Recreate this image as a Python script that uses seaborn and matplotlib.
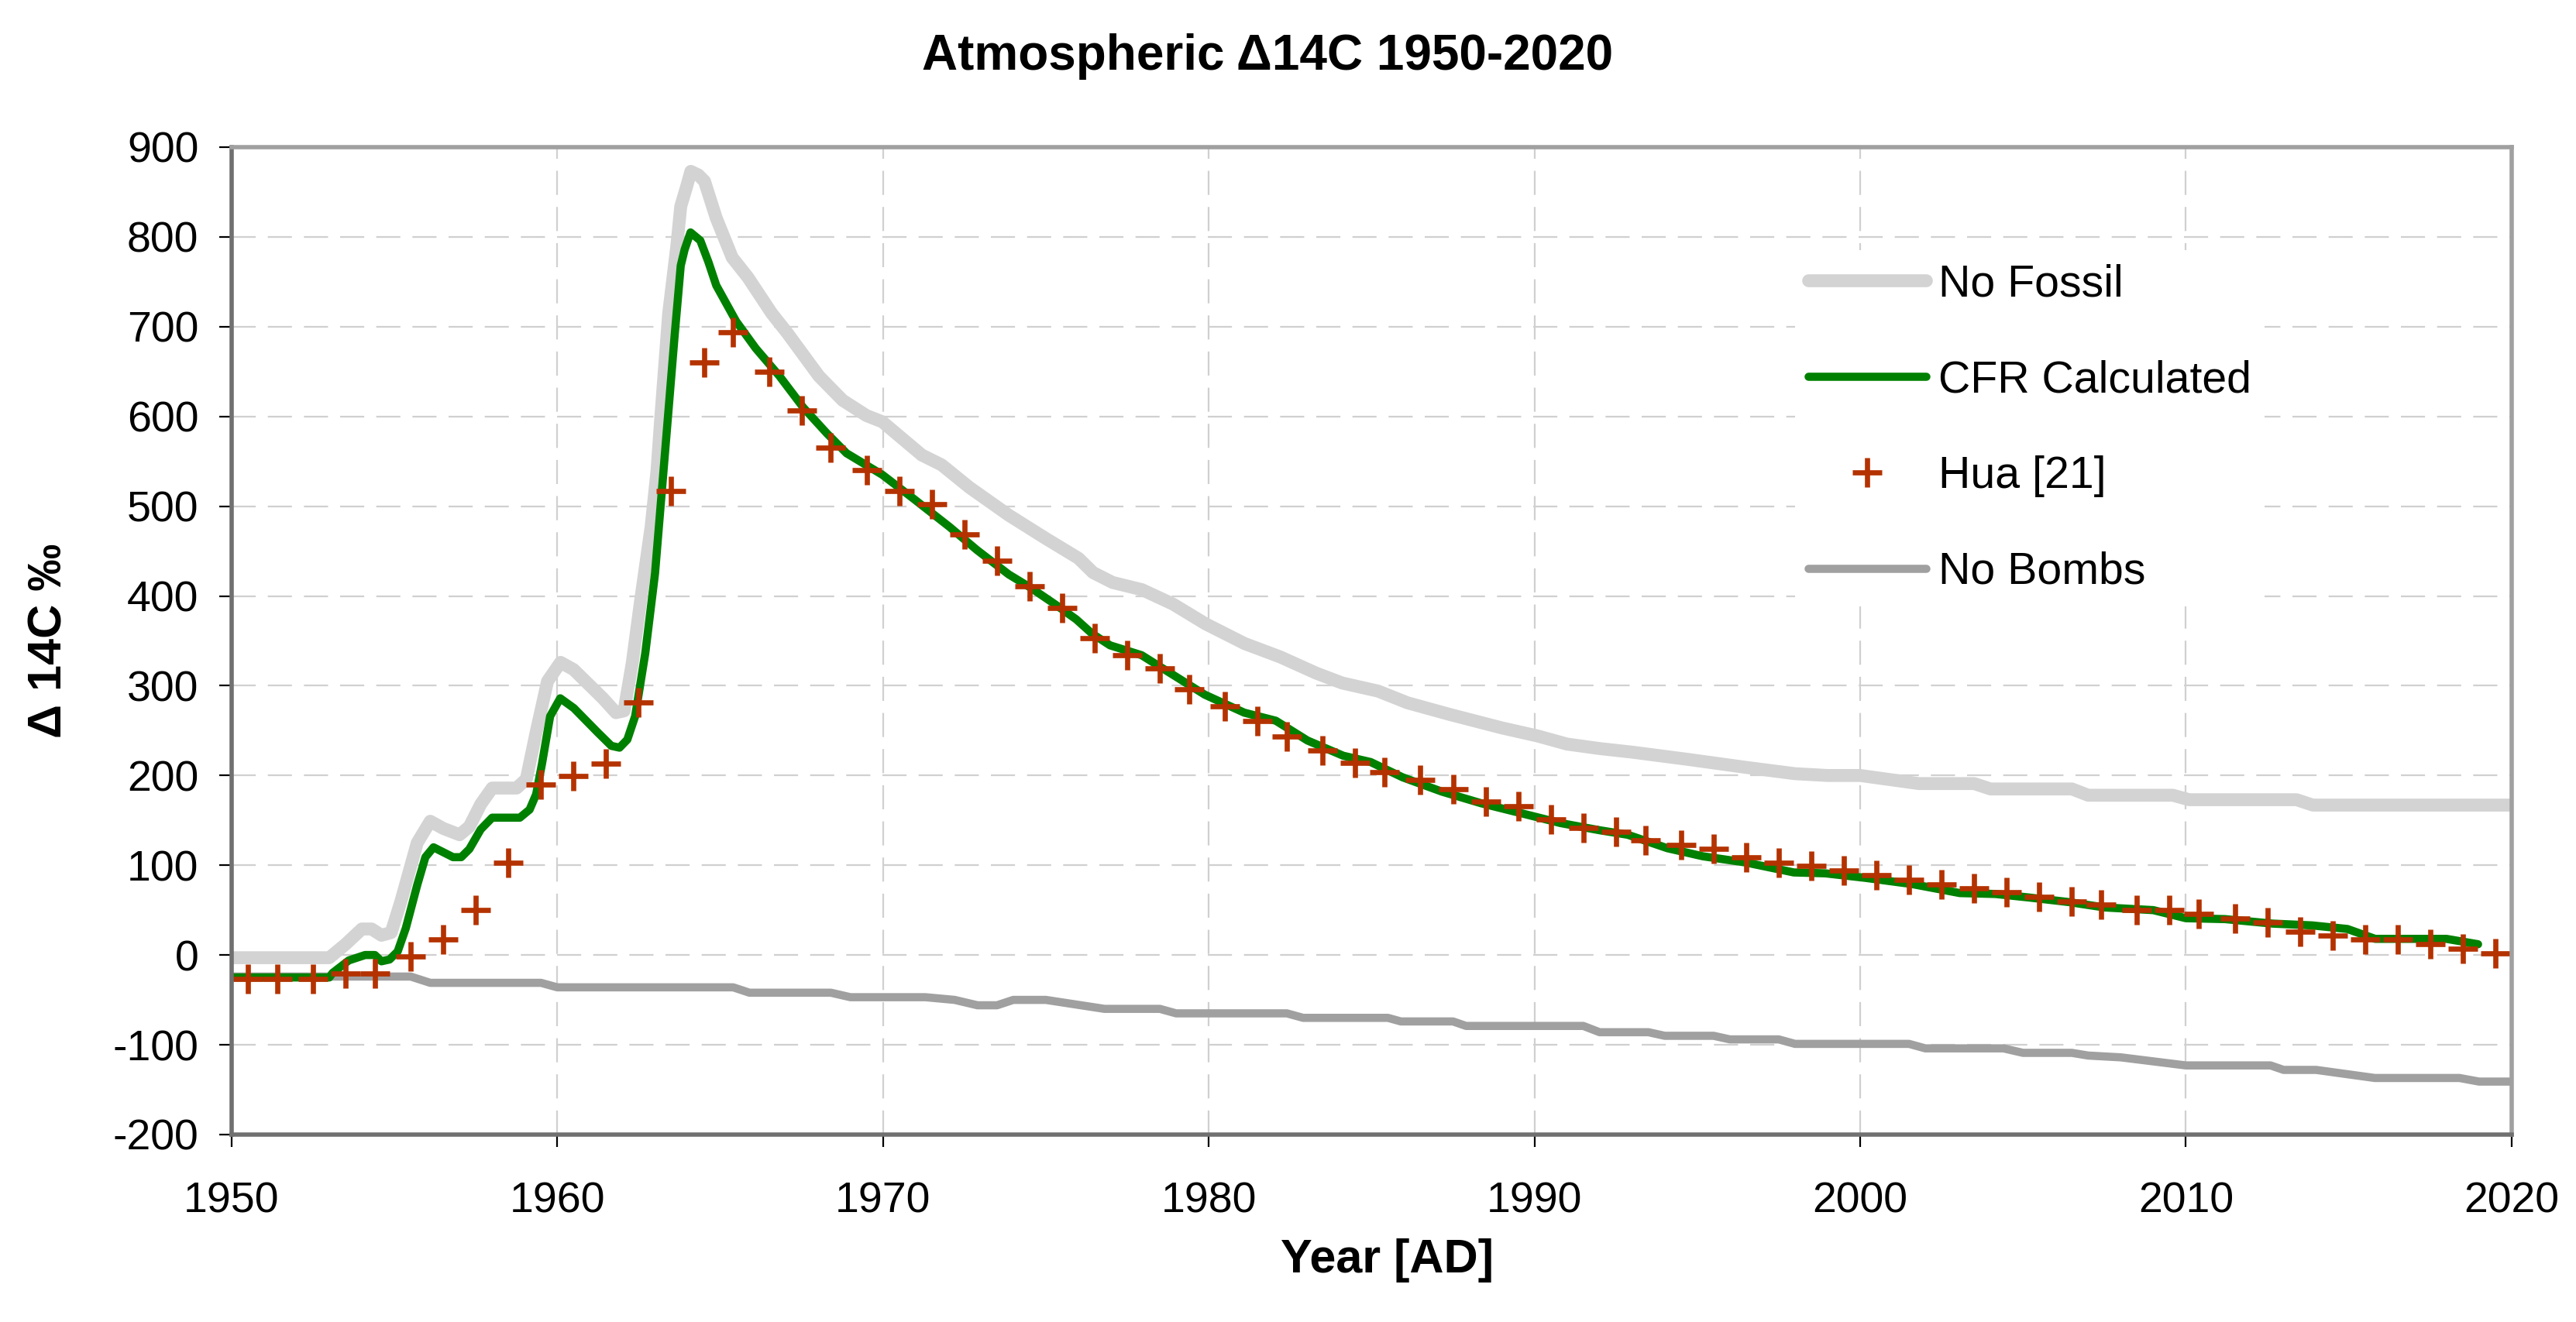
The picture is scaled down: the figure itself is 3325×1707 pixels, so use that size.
import numpy as np
import pandas as pd
import matplotlib.pyplot as plt
import seaborn as sns

# "No Fossil" scenario
nf_year = [1950.0, 1953.0, 1953.5, 1954.0, 1954.3, 1954.6, 1954.9, 1955.2, 1955.7, 1956.1,
           1956.5, 1957.0, 1957.3, 1957.65, 1958.0, 1958.75, 1959.05, 1959.35, 1959.7, 1960.1,
           1960.5, 1961.4, 1961.8, 1962.05, 1962.3, 1962.57, 1962.88, 1963.06, 1963.18, 1963.42,
           1963.67, 1963.79, 1963.97, 1964.1, 1964.33, 1964.52, 1964.88, 1965.37, 1965.85, 1966.58,
           1967.06, 1968.03, 1968.76, 1969.49, 1969.98, 1971.19, 1971.8, 1972.65, 1973.86, 1975.0,
           1976.0, 1976.45, 1977.05, 1977.95, 1978.9, 1979.9, 1981.1, 1982.2, 1983.3, 1984.1,
           1985.2, 1986.1, 1987.4, 1989.0, 1990.1, 1991.0, 1992.0, 1993.0, 1994.7, 1996.5,
           1998.0, 1999.0, 2000.0, 2001.8, 2003.5, 2004.0, 2006.5, 2007.0, 2009.6, 2010.1,
           2013.4, 2013.9, 2020.0]
nf_val = [-3, -3, 12, 29, 29, 22, 25, 60, 125, 149,
          141, 134, 143, 168, 186, 186, 196, 248, 305, 326,
          318, 286, 270, 272, 325, 398, 477, 539, 600, 715,
          790, 834, 856, 873, 869, 862, 821, 777, 755, 715,
          693, 645, 618, 601, 594, 557, 546, 521, 490, 464,
          442, 426, 415, 407, 391, 369, 347, 332, 314, 303,
          294, 281, 268, 253, 244, 235, 230, 226, 218, 209,
          202, 200, 200, 191, 191, 185, 185, 178, 178, 173,
          173, 167, 167]

# "CFR Calculated"
cfr_year = [1950.0, 1953.0, 1953.1, 1953.6, 1954.1, 1954.4, 1954.6, 1954.85, 1955.1, 1955.35,
            1955.7, 1955.95, 1956.2, 1956.8, 1957.05, 1957.3, 1957.65, 1958.0, 1958.85, 1959.15,
            1959.35, 1959.53, 1959.78, 1960.09, 1960.51, 1961.24, 1961.66, 1961.91, 1962.15, 1962.39,
            1962.7, 1963.0, 1963.18, 1963.36, 1963.6, 1963.79, 1963.91, 1964.09, 1964.39, 1964.64,
            1964.88, 1965.49, 1966.09, 1966.82, 1967.55, 1968.28, 1968.88, 1969.98, 1970.95, 1972.04,
            1972.89, 1973.86, 1974.54, 1975.27, 1975.93, 1976.42, 1976.97, 1977.94, 1978.91, 1979.88,
            1981.09, 1982.06, 1983.03, 1984.13, 1984.97, 1985.95, 1987.16, 1988.37, 1989.59, 1990.8,
            1992.0, 1992.86, 1994.08, 1995.17, 1996.5, 1997.96, 1998.93, 2000.15, 2001.6, 2003.06,
            2004.15, 2005.2, 2006.4, 2007.5, 2009.0, 2010.0, 2011.2, 2012.66, 2013.87, 2014.96,
            2015.81, 2018.0, 2018.97]
cfr_val = [-25, -25, -20, -6, 0, 0, -7, -5, 4, 30,
           78, 109, 120, 109, 109, 118, 140, 153, 153, 162,
           179, 213, 266, 286, 275, 248, 233, 231, 240, 266,
           336, 425, 504, 583, 689, 768, 786, 805, 796, 772,
           746, 706, 676, 645, 610, 581, 559, 535, 508, 477,
           451, 424, 409, 391, 374, 358, 345, 334, 312, 290,
           270, 261, 239, 222, 215, 198, 182, 169, 158, 147,
           139, 134, 119, 110, 103, 92, 91, 86, 79, 69,
           68, 64, 59, 53, 50, 41, 40, 35, 33, 29,
           18, 18, 12]

# "Hua [21]" measurements
hua_year = [1950.5, 1951.4, 1952.5, 1953.5, 1954.4, 1955.5, 1956.5, 1957.5, 1958.5, 1959.5,
            1960.5, 1961.5, 1962.5, 1963.5, 1964.5, 1965.4, 1966.5, 1967.5, 1968.4, 1969.5,
            1970.5, 1971.5, 1972.5, 1973.5, 1974.5, 1975.5, 1976.5, 1977.5, 1978.5, 1979.4,
            1980.5, 1981.5, 1982.4, 1983.5, 1984.5, 1985.4, 1986.5, 1987.5, 1988.5, 1989.5,
            1990.5, 1991.5, 1992.5, 1993.4, 1994.5, 1995.5, 1996.5, 1997.5, 1998.5, 1999.5,
            2000.5, 2001.5, 2002.5, 2003.5, 2004.5, 2005.5, 2006.5, 2007.4, 2008.5, 2009.5,
            2010.4, 2011.5, 2012.5, 2013.5, 2014.5, 2015.5, 2016.5, 2017.5, 2018.5, 2019.5]
hua_val = [-27, -27, -27, -21, -21, -2, 17, 50, 103, 190,
           199, 213, 281, 517, 660, 694, 650, 607, 565, 540,
           517, 502, 469, 439, 411, 387, 353, 334, 319, 296,
           277, 261, 243, 228, 214, 204, 195, 185, 171, 166,
           151, 142, 137, 128, 123, 118, 109, 103, 99, 94,
           89, 84, 79, 74, 70, 65, 60, 56, 50, 50,
           46, 41, 36, 26, 22, 17, 17, 12, 7, 2]

# "No Bombs" scenario
nb_year = [1950.0, 1955.5, 1956.1, 1959.5, 1960.0, 1965.4, 1965.9, 1968.4, 1969.0, 1971.3,
           1972.2, 1972.9, 1973.5, 1974.0, 1975.0, 1976.8, 1978.5, 1979.0, 1982.4, 1982.9,
           1985.5, 1985.9, 1987.5, 1987.9, 1991.5, 1992.0, 1993.5, 1994.0, 1995.5, 1996.0,
           1997.5, 1998.0, 2001.5, 2002.0, 2004.4, 2005.0, 2006.5, 2007.0, 2008.0, 2010.0,
           2012.6, 2013.0, 2014.0, 2015.8, 2018.4, 2019.0, 2020.0]
nb_val = [-24, -24, -31, -31, -36, -36, -42, -42, -47, -47,
          -50, -56, -56, -50, -50, -60, -60, -65, -65, -70,
          -70, -74, -74, -79, -79, -86, -86, -90, -90, -94,
          -94, -99, -99, -104, -104, -109, -109, -112, -114, -123,
          -123, -128, -128, -137, -137, -141, -141]

x_ticks = list(range(1950, 2021, 10))
y_ticks = list(range(-200, 901, 100))

sns.set_style('white')
plt.rcParams['font.family'] = ['Liberation Sans', 'DejaVu Sans']
plt.rcParams['axes.unicode_minus'] = False
plt.rcParams['text.color'] = 'black'
plt.rcParams['axes.labelcolor'] = 'black'

fig = plt.figure(figsize=(16.625, 8.535), dpi=200)
ax = fig.add_axes([0.0899, 0.1418, 0.8851, 0.7469])

nf = pd.DataFrame({'Year': nf_year, 'D14C': nf_val})
cfr = pd.DataFrame({'Year': cfr_year, 'D14C': cfr_val})
hua = pd.DataFrame({'Year': hua_year, 'D14C': hua_val})
nb = pd.DataFrame({'Year': nb_year, 'D14C': nb_val})

sns.lineplot(data=nf, x='Year', y='D14C', ax=ax, color='#d3d3d3', lw=6,
             estimator=None, label='No Fossil', solid_capstyle='round', solid_joinstyle='round')
sns.lineplot(data=nb, x='Year', y='D14C', ax=ax, color='#a0a0a0', lw=3.8,
             estimator=None, label='No Bombs', solid_capstyle='round', solid_joinstyle='round')
sns.lineplot(data=cfr, x='Year', y='D14C', ax=ax, color='#008000', lw=3.8,
             estimator=None, label='CFR Calculated', solid_capstyle='round', solid_joinstyle='round')
sns.lineplot(data=hua, x='Year', y='D14C', ax=ax, color='#b43200', linestyle='',
             marker='+', markersize=14, markeredgewidth=2.4, markeredgecolor='#b43200',
             estimator=None, label='Hua [21]')

ax.set_xlim(1950, 2020)
ax.set_ylim(-200, 900)
ax.set_xticks(x_ticks)
ax.set_yticks(y_ticks)
ax.grid(True, color='#d0d0d0', lw=0.8, linestyle=(0, (14, 7)))

ax.tick_params(axis='both', bottom=True, left=True, direction='out', length=5.8,
               width=0.8, color='black', labelsize=20, labelcolor='black')
ax.tick_params(axis='x', pad=16)
ax.tick_params(axis='y', pad=9.5)

for s in ['top', 'right']:
    ax.spines[s].set_color('#a0a0a0')
    ax.spines[s].set_linewidth(2)
for s in ['left', 'bottom']:
    ax.spines[s].set_color('#707070')
    ax.spines[s].set_linewidth(2)

ax.set_xlabel('Year [AD]', fontsize=22, fontweight='bold', color='black')
ax.xaxis.set_label_coords(0.507, -0.105)
ax.set_ylabel('\u0394 14C \u2030', fontsize=22, fontweight='bold', color='black')
ax.yaxis.set_label_coords(-0.07, 0.5)

fig.suptitle('Atmospheric \u039414C 1950-2020', x=0.492, y=0.957, va='center',
             fontsize=23, fontweight='bold', color='black')

handles, labels = ax.get_legend_handles_labels()
order = ['No Fossil', 'CFR Calculated', 'Hua [21]', 'No Bombs']
hmap = dict(zip(labels, handles))
leg = ax.legend([hmap[k] for k in order], order, loc='upper left',
                bbox_to_anchor=(0.676, 0.918), fontsize=20.6, frameon=True,
                facecolor='white', edgecolor='none', framealpha=1,
                handlelength=2.65, handletextpad=0.28, labelspacing=1.22,
                borderpad=0.3, numpoints=1)
for t in leg.get_texts():
    t.set_color('black')

fig.savefig('out.png', dpi=200)
